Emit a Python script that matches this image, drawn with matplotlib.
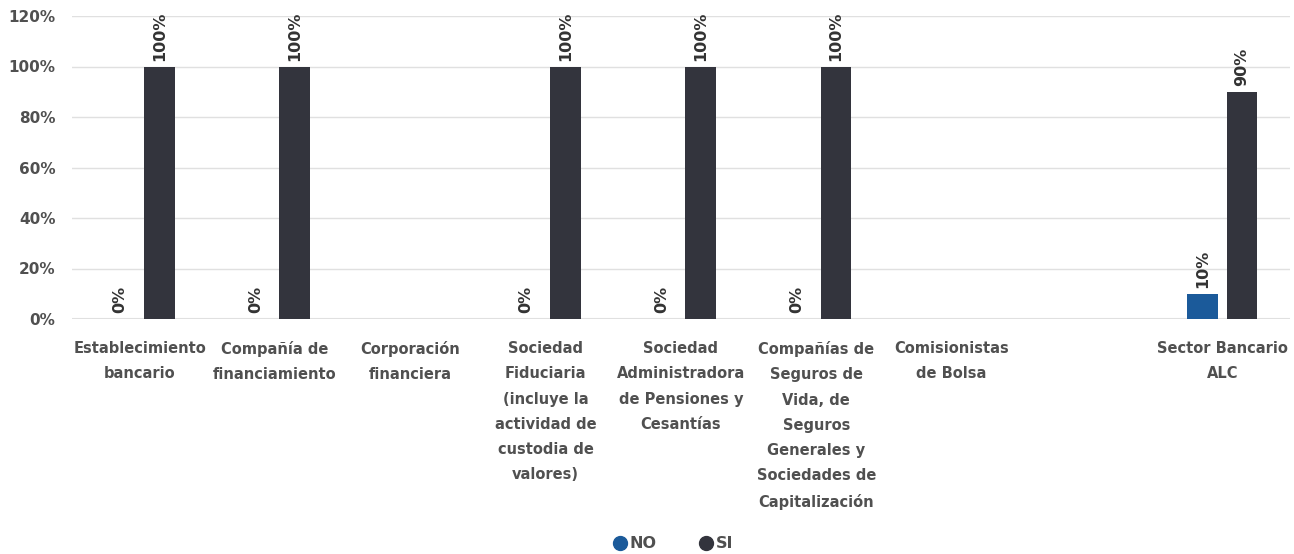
import matplotlib
matplotlib.use("Agg")
import matplotlib.pyplot as plt
import numpy as np
from matplotlib.lines import Line2D

categories = [
    "Establecimiento\nbancario",
    "Compañía de\nfinanciamiento",
    "Corporación\nfinanciera",
    "Sociedad\nFiduciaria\n(incluye la\nactividad de\ncustodia de\nvalores)",
    "Sociedad\nAdministradora\nde Pensiones y\nCesantías",
    "Compañías de\nSeguros de\nVida, de\nSeguros\nGenerales y\nSociedades de\nCapitalización",
    "Comisionistas\nde Bolsa",
    "",
    "Sector Bancario\nALC",
]
no_values = [0, 0, None, 0, 0, 0, None, None, 10]
si_values = [100, 100, None, 100, 100, 100, None, None, 90]
series_names = ["NO", "SI"]
colors = ["#1b5a9a", "#33343d"]
yticks = [0, 20, 40, 60, 80, 100, 120]

plt.rcParams['font.family'] = ['DejaVu Sans']
fig = plt.figure(figsize=(12.94, 5.54), dpi=100)
ax = fig.add_axes([72/1294, 1-319/554, (1290-72)/1294, (319-16)/554])

x = np.arange(len(categories))
w = 0.225
off = 0.145
text_col = "#505050"
for vals, sign, col in [(no_values, -1, colors[0]), (si_values, 1, colors[1])]:
    for i, v in enumerate(vals):
        if v is None:
            continue
        ax.bar(x[i] + sign*off, v, width=w, color=col, zorder=3)
        ax.annotate(f"{v}%", (x[i] + sign*off, v), xytext=(0, 4), textcoords="offset points",
                    rotation=90, ha="center", va="bottom", fontsize=11.5,
                    fontweight="bold", color="#333333", zorder=4)

ax.set_xlim(-0.5, len(categories) - 0.5)
ax.set_ylim(0, 120)
ax.set_yticks(yticks)
ax.set_yticklabels([f"{t}%" for t in yticks], fontsize=11, color=text_col, fontweight="bold")
ax.set_xticks(x)
ax.set_xticklabels(categories, fontsize=10.5, color=text_col, fontweight="bold", linespacing=1.85,
                   va="top")
ax.tick_params(axis="both", length=0)
ax.tick_params(axis="x", pad=16)
ax.tick_params(axis="y", pad=12)
for s in ax.spines.values():
    s.set_visible(False)
ax.grid(axis="y", color="#e0e0e0", linewidth=1, zorder=0)
ax.axhline(0, color="#e0e0e0", linewidth=1.5, zorder=2)

handles = [Line2D([0], [0], marker="o", linestyle="", markersize=10, markerfacecolor=c,
                  markeredgecolor=c) for c in colors]
leg = fig.legend(handles, series_names, loc="center", bbox_to_anchor=(670/1294, 1-544/554),
                 ncol=2, frameon=False, handletextpad=-0.2, handlelength=1.6, columnspacing=2.3,
                 prop={"size": 11.5, "weight": "bold"})
for t in leg.get_texts():
    t.set_color(text_col)

fig.savefig("out.png", dpi=100)
